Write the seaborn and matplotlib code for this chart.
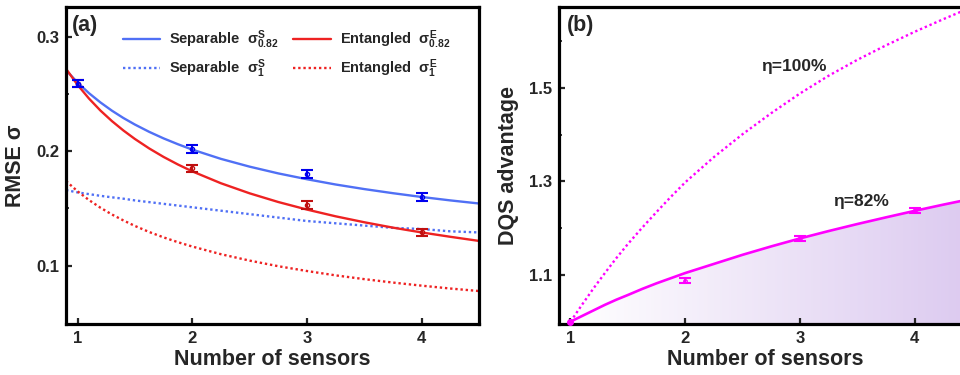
import numpy as np
import pandas as pd
import matplotlib
matplotlib.use('Agg')
import matplotlib.pyplot as plt
import seaborn as sns
from matplotlib.colors import LinearSegmentedColormap
from matplotlib.ticker import FixedLocator

# ---- data ----
# panel (a): RMSE vs number of sensors (theory curves)
n_a = [0.9, 1.0, 1.1, 1.2, 1.3, 1.4, 1.5, 1.625, 1.75, 1.875, 2.0, 2.25, 2.5, 2.75,
       3.0, 3.25, 3.5, 3.75, 4.0, 4.25, 4.5]
sep_082 = [0.2708, 0.2600, 0.2507, 0.2426, 0.2354, 0.2290, 0.2233, 0.2169, 0.2112, 0.2061,
           0.2014, 0.1933, 0.1865, 0.1806, 0.1755, 0.1709, 0.1669, 0.1633, 0.1600, 0.1570, 0.1543]
ent_082 = [0.2720, 0.2580, 0.2460, 0.2355, 0.2263, 0.2181, 0.2107, 0.2024, 0.1950, 0.1884,
           0.1824, 0.1720, 0.1632, 0.1556, 0.1490, 0.1431, 0.1379, 0.1332, 0.1290, 0.1252, 0.1216]
sep_1 = [0.1660, 0.1640, 0.1625, 0.1610, 0.1597, 0.1585, 0.1570, 0.1555, 0.1540, 0.1525,
         0.1510, 0.1480, 0.1450, 0.1420, 0.1390, 0.1370, 0.1350, 0.1330, 0.1320, 0.1300, 0.1290]
ent_1 = [0.1739, 0.1650, 0.1573, 0.1506, 0.1447, 0.1395, 0.1347, 0.1294, 0.1247, 0.1205,
         0.1167, 0.1100, 0.1044, 0.0995, 0.0953, 0.0915, 0.0882, 0.0852, 0.0825, 0.0800, 0.0778]

# panel (a): measured points
n_meas = [1, 2, 3, 4]
sep_meas = [0.259, 0.202, 0.180, 0.160]
ent_meas = [0.259, 0.185, 0.153, 0.129]
err_a = [0.0032, 0.0032, 0.0032, 0.0032]

# panel (b): DQS advantage
n_b = [1.0, 1.1, 1.2, 1.3, 1.4, 1.5, 1.625, 1.75, 1.875, 2.0, 2.25, 2.5, 2.75,
       3.0, 3.25, 3.5, 3.75, 4.0, 4.25, 4.5]
eta100 = [1.000, 1.036, 1.071, 1.104, 1.136, 1.166, 1.201, 1.2345, 1.267, 1.298, 1.352, 1.401,
          1.446, 1.488, 1.526, 1.560, 1.591, 1.620, 1.647, 1.673]
eta82 = [1.000, 1.012, 1.024, 1.036, 1.047, 1.057, 1.070, 1.082, 1.093, 1.104, 1.1235, 1.143,
         1.161, 1.178, 1.1938, 1.2088, 1.2231, 1.237, 1.2503, 1.263]
n_b_meas = [2, 3, 4]
adv_meas = [1.088, 1.178, 1.238]
err_b = [0.006, 0.006, 0.006]

sns.set_style('ticks')
plt.rcParams['font.family'] = ['Liberation Sans', 'DejaVu Sans']
plt.rcParams['font.weight'] = 'bold'
plt.rcParams['mathtext.fontset'] = 'custom'
plt.rcParams['mathtext.rm'] = 'Liberation Sans:bold'
plt.rcParams['mathtext.it'] = 'Liberation Sans:bold'
plt.rcParams['mathtext.bf'] = 'Liberation Sans:bold'

BLUE = '#5070f5'
RED = '#ee2222'
MAG = '#ff00ff'
LAB = 15.5

fig = plt.figure(figsize=(9.6, 3.75), dpi=100)
ax1 = fig.add_axes([0.0688, 0.136, 0.4302, 0.8453])
ax2 = fig.add_axes([0.5823, 0.136, 0.4302, 0.8453])

dot = (0, (1, 1.2))

# ---- panel (a) ----
sns.lineplot(x=n_a, y=sep_082, ax=ax1, color=BLUE, lw=1.7, label=r'Separable  $\sigma^{S}_{0.82}$')
sns.lineplot(x=n_a, y=sep_1, ax=ax1, color=BLUE, lw=1.7, linestyle=dot, label=r'Separable  $\sigma^{S}_{1}$')
sns.lineplot(x=n_a, y=ent_082, ax=ax1, color=RED, lw=1.7, label=r'Entangled  $\sigma^{E}_{0.82}$')
sns.lineplot(x=n_a, y=ent_1, ax=ax1, color=RED, lw=1.7, linestyle=dot, label=r'Entangled  $\sigma^{E}_{1}$')

ax1.errorbar(n_meas, ent_meas, yerr=err_a, fmt='o', ms=3, mfc='none', mec='#c01010',
             ecolor='#c01010', elinewidth=1.5, capsize=4, capthick=1.5, zorder=5)
ax1.errorbar(n_meas, sep_meas, yerr=err_a, fmt='o', ms=3, mfc='none', mec='#0000ee',
             ecolor='#0000ee', elinewidth=1.5, capsize=4, capthick=1.5, zorder=6)

ax1.set_xlim(0.9, 4.5)
ax1.set_ylim(0.049, 0.326)
ax1.set_xticks([1, 2, 3, 4])
ax1.yaxis.set_major_locator(FixedLocator([0.1, 0.2, 0.3]))
ax1.yaxis.set_minor_locator(FixedLocator([0.15, 0.25]))
ax1.set_xlabel('Number of sensors', fontsize=LAB, fontweight='bold', labelpad=2)
ax1.set_ylabel('RMSE σ', fontsize=LAB, fontweight='bold', labelpad=7)
ax1.text(0.015, 0.975, '(a)', transform=ax1.transAxes, fontsize=15.5, fontweight='bold', va='top')

ax1.legend(ncol=2, loc='upper left', bbox_to_anchor=(0.105, 0.975), frameon=False,
           fontsize=10.5, handlelength=2.6, columnspacing=1.0, labelspacing=0.45,
           handletextpad=0.6)

# ---- panel (b) ----
sns.lineplot(x=n_b, y=eta100, ax=ax2, color=MAG, lw=1.7, linestyle=dot)
sns.lineplot(x=n_b, y=eta82, ax=ax2, color=MAG, lw=1.9)

# gradient fill below the eta=82% curve
poly = ax2.fill_between(n_b, 0.995, eta82, facecolor='none', edgecolor='none')
cmap = LinearSegmentedColormap.from_list('fade', ['#ffffff', '#dccaf0'])
grad = np.linspace(0, 1, 256).reshape(1, -1)
im = ax2.imshow(grad, cmap=cmap, extent=[1.0, 4.5, 0.995, 1.3], aspect='auto', zorder=0,
                interpolation='bicubic')
im.set_clip_path(poly.get_paths()[0], transform=ax2.transData)

ax2.errorbar(n_b_meas, adv_meas, yerr=err_b, fmt='o', ms=2.5, mfc='none', mec=MAG,
             ecolor=MAG, elinewidth=1.5, capsize=4, capthick=1.5, zorder=5)
ax2.plot([1.0], [1.0], 'o', ms=4, color=MAG, clip_on=False, zorder=6)

ax2.set_xlim(0.9, 4.5)
ax2.set_ylim(0.995, 1.673)
ax2.set_xticks([1, 2, 3, 4])
ax2.yaxis.set_major_locator(FixedLocator([1.1, 1.3, 1.5]))
ax2.yaxis.set_minor_locator(FixedLocator([1.2, 1.4, 1.6]))
ax2.set_xlabel('Number of sensors', fontsize=LAB, fontweight='bold', labelpad=2)
ax2.set_ylabel('DQS advantage', fontsize=LAB, fontweight='bold', labelpad=7)
ax2.text(0.019, 0.975, '(b)', transform=ax2.transAxes, fontsize=15.5, fontweight='bold', va='top')
ax2.text(2.95, 1.545, 'η=100%', fontsize=12.5, fontweight='bold', ha='center', va='center')
ax2.text(3.53, 1.257, 'η=82%', fontsize=12.5, fontweight='bold', ha='center', va='center')

for ax in (ax1, ax2):
    for s in ax.spines.values():
        s.set_linewidth(2.3)
        s.set_color('black')
    ax.tick_params(which='major', direction='in', length=4, width=1.6, labelsize=12, pad=5)
    ax.tick_params(which='minor', direction='in', length=2.5, width=1.3)
    for lab in ax.get_xticklabels() + ax.get_yticklabels():
        lab.set_fontweight('bold')

fig.savefig('out.png', dpi=100)
